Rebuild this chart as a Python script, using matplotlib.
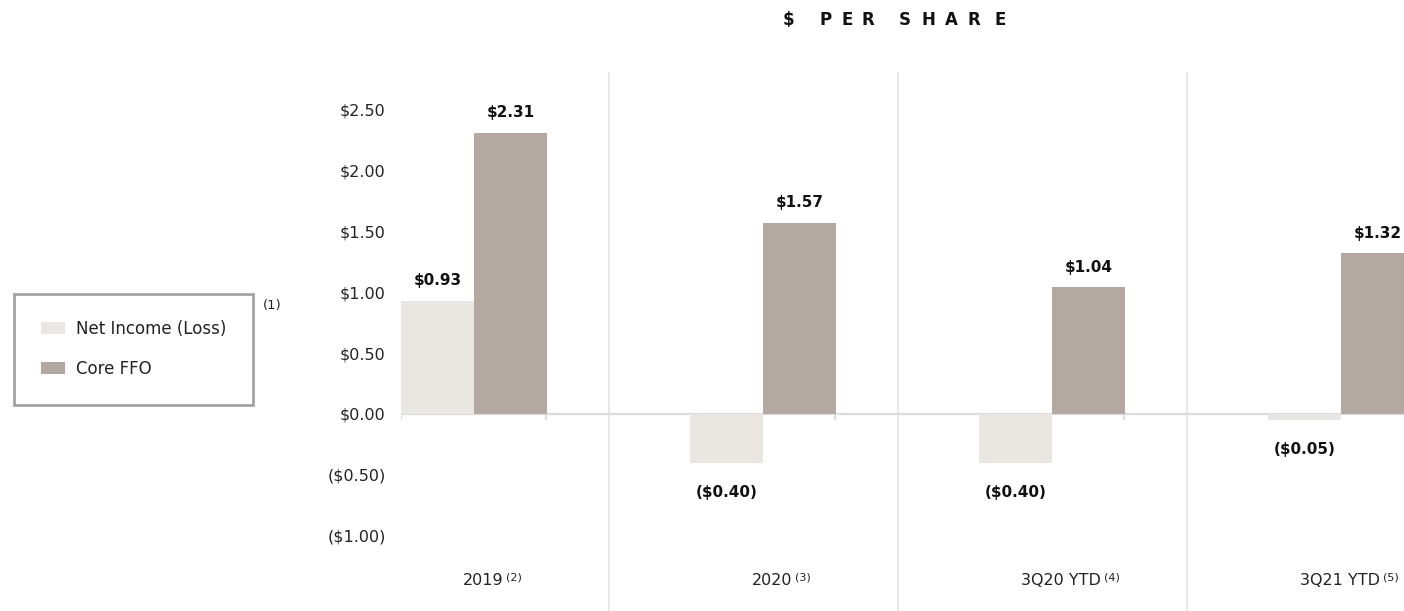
import matplotlib.pyplot as plt
from matplotlib.patches import Patch

plt.rcParams['font.family'] = ['DejaVu Sans']

categories = ["2019", "2020", "3Q20 YTD", "3Q21 YTD"]
footnotes = ["(2)", "(3)", "(4)", "(5)"]
net_income = [0.93, -0.40, -0.40, -0.05]
core_ffo = [2.31, 1.57, 1.04, 1.32]
value_labels_ni = ["$0.93", "($0.40)", "($0.40)", "($0.05)"]
value_labels_ffo = ["$2.31", "$1.57", "$1.04", "$1.32"]
yticks = [-1.0, -0.5, 0.0, 0.5, 1.0, 1.5, 2.0, 2.5]
ytick_labels = ["($1.00)", "($0.50)", "$0.00", "$0.50", "$1.00", "$1.50", "$2.00", "$2.50"]
title_chars = "$PERSHARE"

light = "#EAE7E3"
dark = "#B3A8A2"
W, H = 1404, 611

fig = plt.figure(figsize=(W / 100, H / 100), dpi=100)
ax = fig.add_axes([401 / W, 0, 1003 / W, 539 / H])

bw = 73 / 289
x = list(range(len(categories)))
ax.bar([i + bw / 2 for i in x], net_income, width=bw, color=light, zorder=2)
ax.bar([i + bw * 1.5 for i in x], core_ffo, width=bw, color=dark, zorder=2)

ax.set_xlim(0, 1003 / 289)
ax.set_ylim(-1.62, 2.81)

for s in ax.spines.values():
    s.set_visible(False)

ax.set_xticks([])
ax.set_yticks(yticks)
ax.set_yticklabels(ytick_labels, fontsize=11.5, color="#222222")
ax.tick_params(axis='y', length=0, pad=11)

# zero line, small ticks and category separators
ax.axhline(0, color="#dcdcdc", lw=1.6, zorder=1)
ax.vlines([0, 0.5, 1.5, 2.5], -0.05, 0, color="#dcdcdc", lw=1.6, zorder=1)
for i in x[:-1]:
    ax.axvline(i + 0.72, color="#e6e6e6", lw=1.3, zorder=0)

# value labels
for i in x:
    v = net_income[i]
    off = 9 if v >= 0 else -16
    ax.annotate(value_labels_ni[i], (i + bw / 2, v), xytext=(0, off), textcoords='offset points',
                ha='center', va='bottom' if v >= 0 else 'top', fontsize=11, fontweight='bold', color="#111111")
    ax.annotate(value_labels_ffo[i], (i + bw * 1.5, core_ffo[i]), xytext=(0, 9), textcoords='offset points',
                ha='center', va='bottom', fontsize=11, fontweight='bold', color="#111111")

# category labels with footnotes (last one nudged so it stays inside the figure)
label_pos = [0.285, 0.285, 0.285, 0.25]
for i in x:
    t = ax.text(i + label_pos[i], -1.373, categories[i], ha='center', va='center', fontsize=11.5, color="#222222")
    ax.annotate(footnotes[i], xy=(1, 0.4), xycoords=t, xytext=(2, 0), textcoords='offset points',
                ha='left', va='bottom', fontsize=8, color="#222222")

# spaced-out title
title_x = [788, 826, 847, 868, 905, 928, 951, 974, 1000]
for ch, tx in zip(title_chars, title_x):
    fig.text(tx / W, 1 - 20 / H, ch, ha='center', va='center',
             fontsize=12, fontweight='bold', color="#111111")

handles = [Patch(facecolor=light, edgecolor='none'), Patch(facecolor=dark, edgecolor='none')]
leg = fig.legend(handles, ["Net Income (Loss)", "Core FFO"], loc='center',
                 bbox_to_anchor=(133.5 / W, 1 - 349 / H), fontsize=12, frameon=True,
                 fancybox=False, borderpad=1.6, labelspacing=1.3, handlelength=1.45,
                 handleheight=0.75, handletextpad=0.65)
leg.get_frame().set_edgecolor("#8c8c8c")
leg.get_frame().set_linewidth(2)
for txt in leg.get_texts():
    txt.set_color("#222222")

fig.text(272 / W, 1 - 305 / H, "(1)", ha='center', va='center', fontsize=9.5, color="#222222")

fig.savefig("out.png", dpi=100)
